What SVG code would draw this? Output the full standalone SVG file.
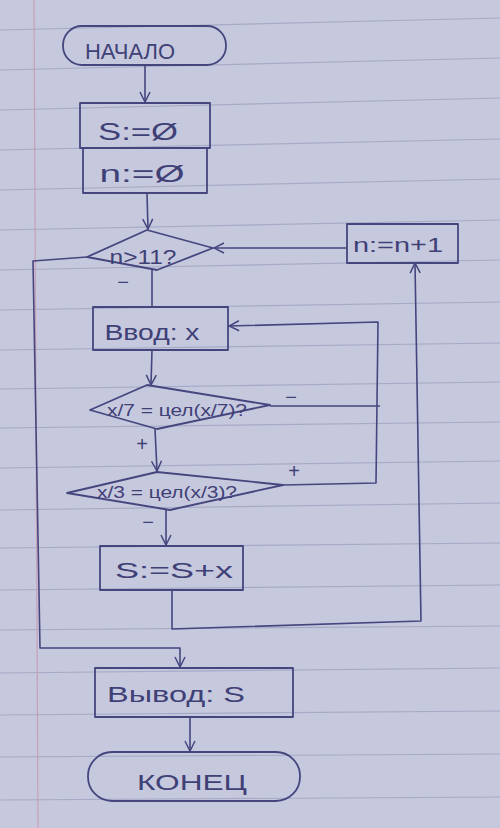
<svg xmlns="http://www.w3.org/2000/svg" width="500" height="828" viewBox="0 0 500 828">
<defs>
<style>
.paper{fill:#c6c8de}
.rule{stroke:#a7aac6;stroke-width:1.2;fill:none}
.margin{stroke:#c99fb6;stroke-width:1.2;fill:none}
.shape{fill:none;stroke:#45467e;stroke-width:1.8;stroke-linejoin:round}
.conn{fill:none;stroke:#45467e;stroke-width:1.6;stroke-linejoin:round}
.arr{marker-end:url(#ah)}
text{font-family:"Liberation Sans","DejaVu Sans",sans-serif;fill:#3e4076;text-anchor:middle}
.lbl{font-size:20px}
</style>
<marker id="ah" viewBox="0 0 12 12" refX="11" refY="6" markerWidth="12" markerHeight="12" markerUnits="userSpaceOnUse" orient="auto">
<path d="M1,1 L11,6 L1,11" fill="none" stroke="#45467e" stroke-width="1.5"/>
</marker>
</defs>
<rect class="paper" x="0" y="0" width="500" height="828"/>
<g id="paper-lines">
<line class="rule" x1="0" y1="30" x2="500" y2="18"/>
<line class="rule" x1="0" y1="70" x2="500" y2="58"/>
<line class="rule" x1="0" y1="110" x2="500" y2="98"/>
<line class="rule" x1="0" y1="150" x2="500" y2="139"/>
<line class="rule" x1="0" y1="190" x2="500" y2="179"/>
<line class="rule" x1="0" y1="230" x2="500" y2="220"/>
<line class="rule" x1="0" y1="270" x2="500" y2="260"/>
<line class="rule" x1="0" y1="310" x2="500" y2="302"/>
<line class="rule" x1="0" y1="350" x2="500" y2="343"/>
<line class="rule" x1="0" y1="389" x2="500" y2="382"/>
<line class="rule" x1="0" y1="428" x2="500" y2="422"/>
<line class="rule" x1="0" y1="468" x2="500" y2="461"/>
<line class="rule" x1="0" y1="510" x2="500" y2="503"/>
<line class="rule" x1="0" y1="548" x2="500" y2="543"/>
<line class="rule" x1="0" y1="590" x2="500" y2="585"/>
<line class="rule" x1="0" y1="630" x2="500" y2="626"/>
<line class="rule" x1="0" y1="673" x2="500" y2="668"/>
<line class="rule" x1="0" y1="715" x2="500" y2="711"/>
<line class="rule" x1="0" y1="757" x2="500" y2="754"/>
<line class="rule" x1="0" y1="800" x2="500" y2="797"/>
<line class="margin" x1="34" y1="0" x2="38" y2="828"/>
</g>
<g id="connectors">
<line class="conn arr" x1="145" y1="65" x2="145" y2="102"/>
<line class="conn arr" x1="147" y1="194" x2="148" y2="229"/>
<line class="conn arr" x1="347" y1="248" x2="214" y2="248"/>
<line class="conn" x1="152" y1="270" x2="152" y2="307"/>
<line class="conn arr" x1="152" y1="350" x2="151" y2="385"/>
<polyline class="conn" points="270,406 380,406"/>
<polyline class="conn arr" points="283,485 376,483 378,322 229,326"/>
<line class="conn arr" x1="155" y1="429" x2="157" y2="471"/>
<line class="conn arr" x1="166" y1="510" x2="166" y2="545"/>
<polyline class="conn arr" points="172,590 172,629 421,621 415,263"/>
<polyline class="conn arr" points="87,257 33,261 40,648 180,648 180,667"/>
<line class="conn arr" x1="190" y1="717" x2="190" y2="751"/>
<text class="lbl" x="123" y="289">−</text>
<text class="lbl" x="291" y="404">−</text>
<text class="lbl" x="142" y="451">+</text>
<text class="lbl" x="294" y="478">+</text>
<text class="lbl" x="148" y="529">−</text>
</g>
<g id="start">
<rect class="shape" x="63" y="26" width="163" height="39" rx="19"/>
<text x="130" y="59" font-size="22" textLength="90" lengthAdjust="spacingAndGlyphs">НАЧАЛО</text>
</g>
<g id="init-s">
<rect class="shape" x="80" y="103" width="130" height="45"/>
<text x="138" y="140" font-size="24" textLength="80" lengthAdjust="spacingAndGlyphs">S:=Ø</text>
</g>
<g id="init-n">
<rect class="shape" x="83" y="148" width="124" height="45"/>
<text x="142" y="182" font-size="24" textLength="85" lengthAdjust="spacingAndGlyphs">n:=Ø</text>
</g>
<g id="cond-n">
<polygon class="shape" points="87,257 147,230 213,248 157,270"/>
<text x="143" y="264" font-size="20" textLength="67" lengthAdjust="spacingAndGlyphs">n&gt;11?</text>
</g>
<g id="inc-n">
<rect class="shape" x="347" y="224" width="111" height="39"/>
<text x="398" y="252" font-size="20" textLength="90" lengthAdjust="spacingAndGlyphs">n:=n+1</text>
</g>
<g id="input-x">
<rect class="shape" x="93" y="307" width="135" height="43"/>
<text x="152" y="340" font-size="22" textLength="95" lengthAdjust="spacingAndGlyphs">Ввод: x</text>
</g>
<g id="cond-7">
<polygon class="shape" points="90,410 147,385 270,405 157,429"/>
<text x="177" y="416" font-size="16" textLength="140" lengthAdjust="spacingAndGlyphs">x/7 = цел(x/7)?</text>
</g>
<g id="cond-3">
<polygon class="shape" points="67,493 157,472 283,485 170,510"/>
<text x="167" y="498" font-size="16" textLength="140" lengthAdjust="spacingAndGlyphs">x/3 = цел(x/3)?</text>
</g>
<g id="sum">
<rect class="shape" x="100" y="546" width="143" height="44"/>
<text x="174" y="578" font-size="22" textLength="118" lengthAdjust="spacingAndGlyphs">S:=S+x</text>
</g>
<g id="output">
<rect class="shape" x="95" y="668" width="198" height="49"/>
<text x="176" y="702" font-size="22" textLength="138" lengthAdjust="spacingAndGlyphs">Вывод: S</text>
</g>
<g id="end">
<rect class="shape" x="88" y="752" width="212" height="49" rx="24"/>
<text x="192" y="790" font-size="22" textLength="110" lengthAdjust="spacingAndGlyphs">КОНЕЦ</text>
</g>
</svg>
